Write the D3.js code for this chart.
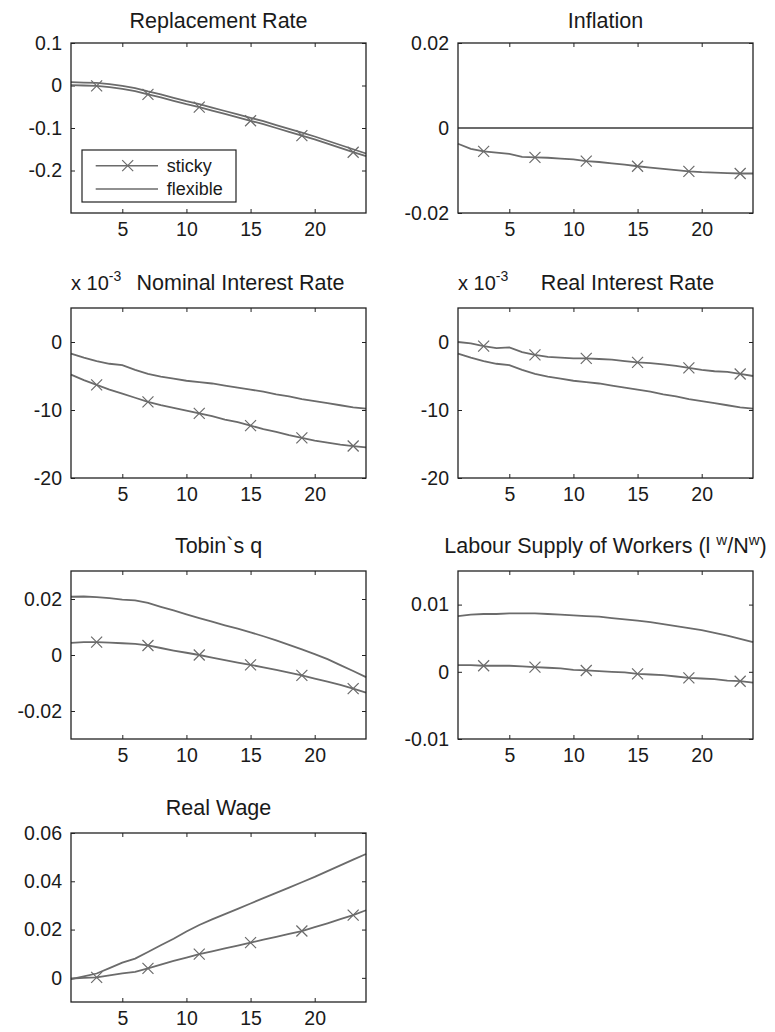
<!DOCTYPE html>
<html>
<head>
<meta charset="utf-8">
<script src="https://cdn.jsdelivr.net/npm/d3@7"></script>
<style>
  body { margin: 0; background: #fff; }
  svg { font-family: "Liberation Sans", Arial, Helvetica, sans-serif; }
</style>
</head>
<body>
<svg id="chart" width="775" height="1032"></svg>
<script>
// periods on the x axis and where the sticky markers sit
var periods = [1, 2, 3, 4, 5, 6, 7, 8, 9, 10, 11, 12, 13, 14, 15, 16, 17, 18, 19, 20, 21, 22, 23, 24];
var markerPeriods = [3, 7, 11, 15, 19, 23];
var xTicks = [5, 10, 15, 20];

// Replacement Rate
var replSticky = [0.001, 0.000, -0.001, -0.004, -0.008, -0.013, -0.021, -0.028, -0.036, -0.044, -0.051, -0.059,
  -0.067, -0.075, -0.083, -0.091, -0.100, -0.109, -0.118, -0.127, -0.137, -0.147, -0.157, -0.166];
var replFlexible = [0.008, 0.007, 0.006, 0.003, -0.001, -0.006, -0.014, -0.021, -0.029, -0.037, -0.044, -0.052,
  -0.060, -0.068, -0.076, -0.084, -0.093, -0.102, -0.111, -0.120, -0.130, -0.140, -0.150, -0.160];
var replTicks = [0.1, 0, -0.1, -0.2];

// Inflation
var inflSticky = [-0.0037, -0.0049, -0.0055, -0.0058, -0.0061, -0.0068, -0.0069, -0.0070, -0.0072, -0.0074, -0.0078, -0.0080,
  -0.0083, -0.0086, -0.0090, -0.0093, -0.0096, -0.0099, -0.0102, -0.0104, -0.0105, -0.0106, -0.0107, -0.0107];
var inflFlexible = [0, 0, 0, 0, 0, 0, 0, 0, 0, 0, 0, 0, 0, 0, 0, 0, 0, 0, 0, 0, 0, 0, 0, 0];
var inflTicks = [0.02, 0, -0.02];

// Nominal Interest Rate (x 10^-3)
var nomSticky = [-4.8, -5.6, -6.3, -7.0, -7.6, -8.2, -8.8, -9.3, -9.7, -10.1, -10.5, -10.9,
  -11.4, -11.8, -12.3, -12.8, -13.2, -13.7, -14.1, -14.5, -14.8, -15.1, -15.3, -15.5];
var nomFlexible = [-1.7, -2.3, -2.8, -3.2, -3.4, -4.1, -4.7, -5.1, -5.4, -5.7, -5.9, -6.1,
  -6.4, -6.7, -7.0, -7.3, -7.7, -8.0, -8.4, -8.7, -9.0, -9.3, -9.6, -9.8];
var rateTicks = [0, -10, -20];

// Real Interest Rate (x 10^-3)
var realSticky = [0.0, -0.2, -0.6, -0.9, -0.8, -1.5, -1.9, -2.2, -2.3, -2.4, -2.4, -2.5,
  -2.6, -2.8, -3.0, -3.1, -3.3, -3.5, -3.8, -4.1, -4.3, -4.4, -4.7, -5.0];
var realFlexible = [-1.7, -2.3, -2.8, -3.2, -3.4, -4.1, -4.7, -5.1, -5.4, -5.7, -5.9, -6.1,
  -6.4, -6.7, -7.0, -7.3, -7.7, -8.0, -8.4, -8.7, -9.0, -9.3, -9.6, -9.8];

// Tobin`s q
var tobinSticky = [0.0043, 0.0046, 0.0046, 0.0044, 0.0042, 0.0040, 0.0034, 0.0025, 0.0016, 0.0008, 0.0000, -0.0009,
  -0.0018, -0.0027, -0.0035, -0.0044, -0.0053, -0.0063, -0.0073, -0.0084, -0.0095, -0.0107, -0.0120, -0.0134];
var tobinFlexible = [0.0208, 0.0209, 0.0207, 0.0203, 0.0198, 0.0195, 0.0186, 0.0172, 0.0159, 0.0145, 0.0132, 0.0119,
  0.0106, 0.0094, 0.0081, 0.0067, 0.0052, 0.0036, 0.0020, 0.0003, -0.0015, -0.0036, -0.0057, -0.0079];
var tobinTicks = [0.02, 0, -0.02];

// Labour Supply of Workers
var labSticky = [0.0010, 0.0010, 0.0009, 0.0009, 0.0009, 0.0008, 0.0007, 0.0006, 0.0005, 0.0003, 0.0002, 0.0001,
  0.0000, -0.0001, -0.0003, -0.0004, -0.0005, -0.0007, -0.0009, -0.0010, -0.0011, -0.0013, -0.0014, -0.0016];
var labFlexible = [0.0083, 0.0085, 0.0086, 0.0086, 0.0087, 0.0087, 0.0087, 0.0086, 0.0085, 0.0084, 0.0083, 0.0082,
  0.0080, 0.0078, 0.0076, 0.0074, 0.0071, 0.0068, 0.0065, 0.0062, 0.0058, 0.0054, 0.0049, 0.0044];
var labTicks = [0.01, 0, -0.01];

// Real Wage
var wageSticky = [-0.0003, 0.0000, 0.0002, 0.0010, 0.0019, 0.0025, 0.0039, 0.0055, 0.0070, 0.0084, 0.0098, 0.0110,
  0.0122, 0.0134, 0.0146, 0.0158, 0.0170, 0.0182, 0.0194, 0.0210, 0.0226, 0.0243, 0.0260, 0.0280];
var wageFlexible = [-0.0005, 0.0006, 0.0018, 0.0040, 0.0063, 0.0080, 0.0107, 0.0135, 0.0162, 0.0192, 0.0219, 0.0242,
  0.0264, 0.0286, 0.0308, 0.0330, 0.0352, 0.0374, 0.0396, 0.0418, 0.0442, 0.0466, 0.0490, 0.0513];
var wageTicks = [0.06, 0.04, 0.02, 0];

var legendLabels = ["sticky", "flexible"];

var svg = d3.select("#chart");
var lineColor = "#6b6b6b";
var textColor = "#1a1a1a";

var colL = [71, 366], colR = [458, 753];
var rows = [[43, 213], [308, 478], [571, 739], [833, 1002]];
var titleY = [28, 290, 553, 815];

var panels = [
  { title: "Replacement Rate", sticky: replSticky, flexible: replFlexible, dom: [-0.3, 0.1], ticks: replTicks, col: colL, row: 0, legend: true },
  { title: "Inflation", sticky: inflSticky, flexible: inflFlexible, dom: [-0.02, 0.02], ticks: inflTicks, col: colR, row: 0 },
  { title: "Nominal Interest Rate", sticky: nomSticky, flexible: nomFlexible, dom: [-20, 5], ticks: rateTicks, col: colL, row: 1, expo: true, shift: 22 },
  { title: "Real Interest Rate", sticky: realSticky, flexible: realFlexible, dom: [-20, 5], ticks: rateTicks, col: colR, row: 1, expo: true, shift: 22 },
  { title: "Tobin`s q", sticky: tobinSticky, flexible: tobinFlexible, dom: [-0.03, 0.03], ticks: tobinTicks, col: colL, row: 2 },
  { title: "Labour Supply of Workers", sticky: labSticky, flexible: labFlexible, dom: [-0.01, 0.015], ticks: labTicks, col: colR, row: 2, labour: true },
  { title: "Real Wage", sticky: wageSticky, flexible: wageFlexible, dom: [-0.01, 0.06], ticks: wageTicks, col: colL, row: 3 }
];

function drawX(g, cx, cy, s) {
  g.append("path")
    .attr("d", "M" + (cx - s) + "," + (cy - s) + "L" + (cx + s) + "," + (cy + s) +
               "M" + (cx - s) + "," + (cy + s) + "L" + (cx + s) + "," + (cy - s))
    .attr("stroke", lineColor).attr("stroke-width", 1.2).attr("fill", "none");
}

panels.forEach(function(p) {
  var x0 = p.col[0], x1 = p.col[1];
  var y0 = rows[p.row][0], y1 = rows[p.row][1];
  var x = d3.scaleLinear().domain([1, 24]).range([x0, x1]);
  var y = d3.scaleLinear().domain(p.dom).range([y1, y0]);
  var g = svg.append("g");

  // inside ticks on all four sides, labels on left and bottom only
  var fmt = function(d) { return String(d); };
  var axes = [
    g.append("g").attr("transform", "translate(" + x0 + ",0)").call(d3.axisLeft(y).tickValues(p.ticks).tickSize(-4).tickPadding(9).tickFormat(fmt)),
    g.append("g").attr("transform", "translate(" + x1 + ",0)").call(d3.axisRight(y).tickValues(p.ticks).tickSize(-4).tickFormat("")),
    g.append("g").attr("transform", "translate(0," + y1 + ")").call(d3.axisBottom(x).tickValues(xTicks).tickSize(-4).tickPadding(8).tickFormat(fmt)),
    g.append("g").attr("transform", "translate(0," + y0 + ")").call(d3.axisTop(x).tickValues(xTicks).tickSize(-4).tickFormat(""))
  ];
  axes.forEach(function(a) {
    a.select(".domain").remove();
    a.selectAll(".tick line").attr("stroke", "#222").attr("stroke-width", 1);
    a.selectAll(".tick text").attr("fill", textColor).style("font-size", "19.5px")
      .style("font-family", "'Liberation Sans', Arial, sans-serif");
  });
  axes[2].selectAll(".tick text").attr("dy", null).attr("y", 22.5);

  var line = d3.line().x(function(d, i) { return x(periods[i]); }).y(function(d) { return y(d); });
  g.append("path").datum(p.flexible).attr("d", line)
    .attr("fill", "none").attr("stroke", lineColor).attr("stroke-width", 1.8);
  g.append("path").datum(p.sticky).attr("d", line)
    .attr("fill", "none").attr("stroke", lineColor).attr("stroke-width", 1.8);
  markerPeriods.forEach(function(t) {
    drawX(g, x(t), y(p.sticky[t - 1]), 5.5);
  });

  g.append("rect").attr("x", x0).attr("y", y0).attr("width", x1 - x0).attr("height", y1 - y0)
    .attr("fill", "none").attr("stroke", "#222").attr("stroke-width", 1.3);

  // title
  var cx = (x0 + x1) / 2 + (p.shift || 0);
  var t = g.append("text").attr("x", cx).attr("y", titleY[p.row]).attr("text-anchor", "middle")
    .attr("fill", textColor).style("font-size", "21.5px");
  if (p.labour) {
    t.append("tspan").text("Labour Supply of Workers (l ");
    t.append("tspan").attr("dy", -8).style("font-size", "15px").text("w");
    t.append("tspan").attr("dy", 8).text("/N");
    t.append("tspan").attr("dy", -8).style("font-size", "15px").text("w");
    t.append("tspan").attr("dy", 8).text(")");
  } else {
    t.text(p.title);
  }
  if (p.expo) {
    var e = g.append("text").attr("x", x0).attr("y", titleY[p.row]).attr("fill", textColor).style("font-size", "20px");
    e.append("tspan").text("x 10");
    e.append("tspan").attr("dy", -9).style("font-size", "14px").text("-3");
  }

  if (p.legend) {
    var lg = g.append("g");
    lg.append("rect").attr("x", 82).attr("y", 150).attr("width", 154).attr("height", 52)
      .attr("fill", "#fff").attr("stroke", "#222").attr("stroke-width", 1.2);
    legendLabels.forEach(function(lab, i) {
      var ly = 165.7 + i * 23.3;
      lg.append("line").attr("x1", 95.7).attr("x2", 158).attr("y1", ly).attr("y2", ly)
        .attr("stroke", lineColor).attr("stroke-width", 1.5);
      if (i === 0) drawX(lg, 127.7, ly, 5.5);
      lg.append("text").attr("x", 166.7).attr("y", ly + 6).attr("fill", textColor)
        .style("font-size", "18px").text(lab);
    });
  }
});
</script>
</body>
</html>
